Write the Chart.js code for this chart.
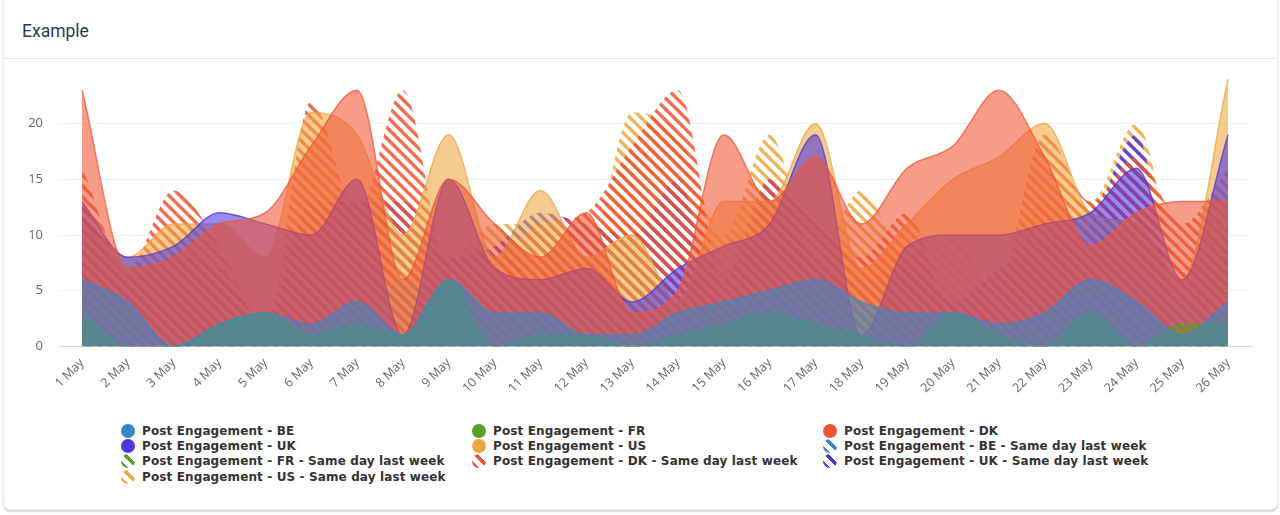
<!DOCTYPE html>
<html>
<head>
<meta charset="utf-8">
<title>Example</title>
<script src="https://cdn.jsdelivr.net/npm/chart.js@4"></script>
<style>
  html, body { margin: 0; width: 1280px; height: 515px; overflow: hidden; background: #fff; }
  .card { position: absolute; left: 3px; top: -8px; width: 1273px; height: 516px; border: 1px solid #ececec; border-radius: 7px; box-shadow: 0 2px 2px #d4d4d4; background: #fff; }
  .card__title { position: absolute; left: 22px; top: 21px; font: 17.5px Roboto, sans-serif; color: #1f3d4d; }
  .card__rule { position: absolute; left: 3px; right: 4px; top: 58px; height: 1px; background: #e4e4e4; }
  #engagementChart { position: absolute; left: 0; top: 0; }
  .legend { position: absolute; left: 121px; top: 423px; display: grid; grid-template-columns: repeat(3, 351px); grid-auto-rows: 15.4px; font: bold 12px "DejaVu Sans", sans-serif; letter-spacing: 0.12px; color: #333; }
  .legend__item { display: flex; align-items: center; white-space: nowrap; }
  .legend__swatch { width: 14px; height: 14px; border-radius: 50%; margin-right: 7px; flex: none; }
</style>
</head>
<body>
<div class="card"></div>
<div class="card__title">Example</div>
<div class="card__rule"></div>
<canvas id="engagementChart" width="1280" height="415"></canvas>
<div class="legend" id="legend"></div>
<script>
const days = ['1 May','2 May','3 May','4 May','5 May','6 May','7 May','8 May','9 May','10 May','11 May','12 May','13 May','14 May','15 May','16 May','17 May','18 May','19 May','20 May','21 May','22 May','23 May','24 May','25 May','26 May'];
const yTicks = [0, 5, 10, 15, 20];

const beNow = [6,4,0,2,3,2,4,1,6,3,3,1,1,3,4,5,6,4,3,3,2,3,6,4,1,4];
const frNow = [3,0,0,2,3,1,2,1,6,0,1,1,0,1,2,3,2,1,0,3,1,0,3,0,2,2];
const dkNow = [23,7,8,11,12,18,23,6,15,11,8,12,3,5,19,13,17,11,16,18,23,17,9,12,13,13];
const ukNow = [13,8,9,12,11,10,15,1,15,7,6,7,4,7,9,11,19,1,9,10,10,11,12,16,6,19];
const usNow = [11,8,11,11,8,21,19,10,19,8,14,8,10,4,13,13,20,7,11,15,17,20,12,11,6,24];

const beLast = [2,1,1,1,1,1,2,6,4,0,2,3,2,4,1,6,3,3,1,1,3,4,5,6,4,3];
const frLast = [1,0,1,1,0,1,1,3,0,0,2,3,1,2,1,6,0,1,1,0,1,2,3,2,1,0];
const dkLast = [16,7,14,9,2,22,12,23,7,8,11,12,18,23,6,15,11,8,12,3,5,19,13,17,11,16];
const ukLast = [13,6,8,7,2,13,13,13,8,9,12,11,10,15,1,15,7,6,7,4,7,9,11,19,1,9];
const usLast = [10,6,8,7,2,13,13,11,8,11,11,8,21,19,10,19,8,14,8,10,4,13,13,20,7,11];

const blue = '53,136,200', green = '90,158,45', red = '239,85,51', violet = '80,54,220', orange = '237,166,63';

function hatch(rgb) {
  const tile = document.createElement('canvas');
  tile.width = tile.height = 11;
  const c = tile.getContext('2d');
  c.strokeStyle = `rgba(${rgb},0.85)`;
  c.lineWidth = 3.5;
  c.beginPath();
  // the tile repeats from the canvas origin, the offset lines the stripes up with the reference
  [-15.6, -4.6, 6.4].forEach(d => {
    c.moveTo(d - 3, -3);
    c.lineTo(d + 14, 14);
  });
  c.stroke();
  return c.createPattern(tile, 'repeat');
}

function solid(label, values, rgb, order) {
  return {
    label, order,
    data: values.map((y, x) => ({ x, y })),
    borderColor: `rgba(${rgb},0.75)`,
    borderWidth: 1.5,
    backgroundColor: `rgba(${rgb},0.58)`,
    fill: 'origin'
  };
}

function lastWeek(label, values, rgb, order) {
  return {
    label: label + ' - Same day last week', order,
    data: values.map((y, x) => ({ x, y })),
    borderWidth: 0,
    borderColor: 'transparent',
    backgroundColor: hatch(rgb),
    fill: 'origin'
  };
}

// lower order is painted last, so on top
const datasets = [
  solid('Post Engagement - BE', beNow, blue, 1),
  solid('Post Engagement - FR', frNow, green, 2),
  solid('Post Engagement - DK', dkNow, red, 3),
  solid('Post Engagement - UK', ukNow, violet, 4),
  solid('Post Engagement - US', usNow, orange, 5),
  lastWeek('Post Engagement - BE', beLast, blue, 6),
  lastWeek('Post Engagement - FR', frLast, green, 7),
  lastWeek('Post Engagement - DK', dkLast, red, 8),
  lastWeek('Post Engagement - UK', ukLast, violet, 9),
  lastWeek('Post Engagement - US', usLast, orange, 10)
];

const chart = new Chart(document.getElementById('engagementChart'), {
  type: 'line',
  data: { datasets },
  options: {
    responsive: false,
    animation: false,
    layout: { padding: { top: 79, right: 29, left: 0, bottom: 0 } },
    elements: {
      point: { radius: 0 },
      line: { cubicInterpolationMode: 'monotone' }
    },
    plugins: { legend: { display: false }, tooltip: { enabled: false } },
    scales: {
      x: {
        type: 'linear',
        min: -0.48,
        max: 25.5,
        afterBuildTicks: axis => { axis.ticks = days.map((_, i) => ({ value: i })); },
        afterFit: axis => { axis.height = 68.5; },
        grid: { display: false },
        border: { color: '#ccd6eb', width: 1 },
        ticks: {
          autoSkip: false,
          maxRotation: 45,
          minRotation: 45,
          padding: 1,
          color: '#666',
          font: { family: 'Open Sans', size: 12.5 },
          callback: value => days[value]
        }
      },
      y: {
        min: 0,
        max: 24,
        afterBuildTicks: axis => { axis.ticks = yTicks.map(value => ({ value })); },
        afterFit: axis => { axis.width = 60; },
        grid: { color: '#f2f2f2', drawTicks: false },
        border: { display: false },
        ticks: {
          padding: 17,
          color: '#666',
          font: { family: 'Open Sans', size: 13 }
        }
      }
    }
  }
});

const swatches = ['#3588c8', '#5a9e2d', '#ef5533', '#5036dc', '#eda63f', '#3588c8', '#5a9e2d', '#ef5533', '#5036dc', '#eda63f'];
const legend = document.getElementById('legend');
datasets.forEach((ds, i) => {
  const item = document.createElement('div');
  item.className = 'legend__item';
  const swatch = document.createElement('span');
  swatch.className = 'legend__swatch';
  swatch.style.background = i < 5 ? swatches[i] : `repeating-linear-gradient(45deg, transparent 0 1.5px, ${swatches[i]} 1.5px 5px, transparent 5px 9px)`;
  const text = document.createElement('span');
  text.textContent = ds.label;
  item.append(swatch, text);
  legend.appendChild(item);
});
</script>
</body>
</html>
